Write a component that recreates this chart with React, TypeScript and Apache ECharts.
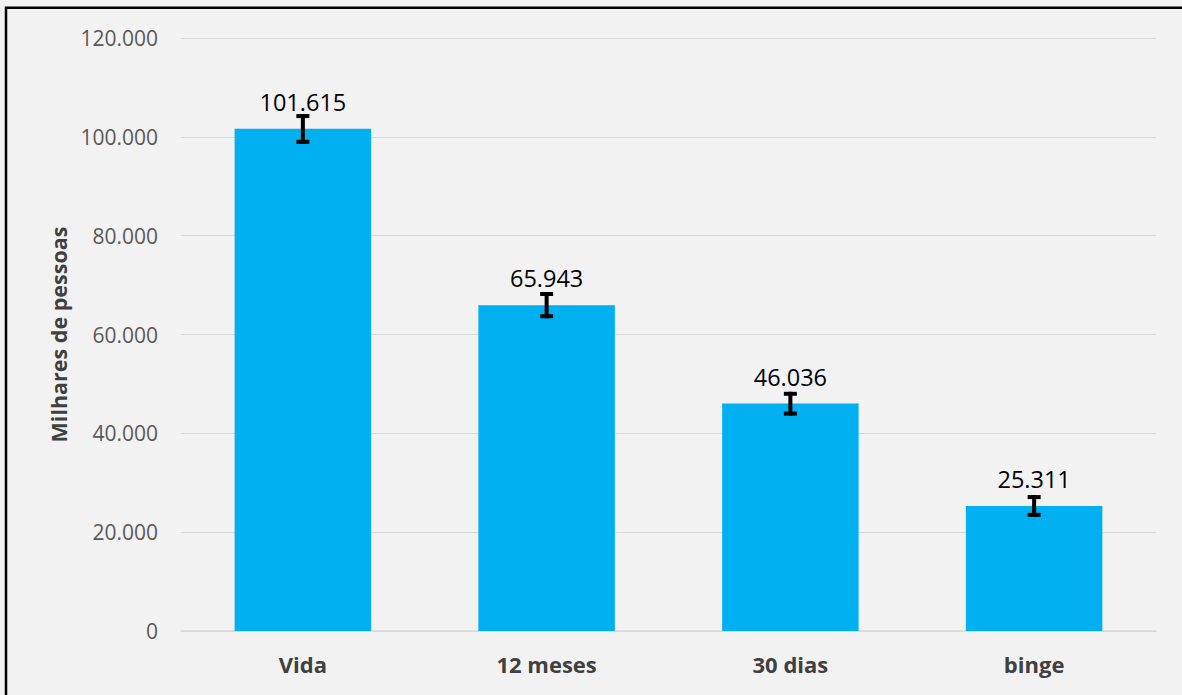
import React, { useEffect, useRef } from "react";
import * as echarts from "echarts";

const categories = ["Vida", "12 meses", "30 dias", "binge"];
const values = [101615, 65943, 46036, 25311];
const errLow = [99000, 63700, 44000, 23500];
const errHigh = [104200, 68200, 48000, 27100];
const yTicks = { min: 0, max: 120000, interval: 20000 };

function fmt(v: number): string {
  const s = Math.round(v).toString();
  return s.replace(/\B(?=(\d{3})+(?!\d))/g, ".");
}

export default function App() {
  const ref = useRef<HTMLDivElement>(null);
  useEffect(() => {
    if (!ref.current) return;
    const chart = echarts.init(ref.current, null, { renderer: "svg" });
    const font = "'Open Sans', sans-serif";
    chart.setOption({
      animation: false,
      backgroundColor: "#f2f2f2",
      textStyle: { fontFamily: font },
      grid: { left: 181, right: 26, top: 38, bottom: 64 },
      graphic: [
        {
          type: "rect",
          shape: { x: 6, y: 7.7, width: 1300, height: 900 },
          style: { fill: "none", stroke: "#000", lineWidth: 2.5 },
          silent: true,
          z: 100,
        },
      ],
      xAxis: {
        type: "category",
        data: categories,
        axisTick: { show: false },
        axisLine: { lineStyle: { color: "#d9d9d9", width: 1.5 } },
        axisLabel: {
          color: "#404040",
          fontWeight: "bold",
          fontSize: 22,
          margin: 22,
          fontFamily: font,
        },
      },
      yAxis: {
        type: "value",
        min: yTicks.min,
        max: yTicks.max,
        interval: yTicks.interval,
        name: "Milhares de pessoas",
        nameLocation: "middle",
        nameGap: 110,
        nameTextStyle: {
          color: "#404040",
          fontWeight: "bold",
          fontSize: 21.5,
          fontFamily: font,
        },
        axisLine: { show: false },
        axisTick: { show: false },
        splitLine: { lineStyle: { color: "#d9d9d9", width: 1 } },
        axisLabel: {
          color: "#595959",
          fontSize: 21,
          margin: 23,
          fontFamily: font,
          formatter: (v: number) => fmt(v),
        },
      },
      series: [
        {
          type: "bar",
          data: values,
          barWidth: "56%",
          itemStyle: { color: "#00b0f0" },
          label: {
            show: true,
            position: "top",
            distance: 15,
            color: "#000",
            fontSize: 23.5,
            fontFamily: font,
            formatter: (p: any) => fmt(p.value),
          },
        },
        {
          type: "custom",
          data: categories.map((_, i) => [i, errLow[i], errHigh[i]]),
          z: 10,
          renderItem: (params: any, api: any) => {
            const x = api.value(0);
            const lo = api.coord([x, api.value(1)]);
            const hi = api.coord([x, api.value(2)]);
            const cx = lo[0];
            const hw = 4.5;
            const style = { stroke: "#000", lineWidth: 4, lineCap: "square" };
            return {
              type: "group",
              children: [
                { type: "line", shape: { x1: cx, y1: lo[1], x2: cx, y2: hi[1] }, style },
                { type: "line", shape: { x1: cx - hw, y1: lo[1], x2: cx + hw, y2: lo[1] }, style },
                { type: "line", shape: { x1: cx - hw, y1: hi[1], x2: cx + hw, y2: hi[1] }, style },
              ],
            };
          },
        },
      ],
    });
    return () => chart.dispose();
  }, []);
  return (
    <div
      ref={ref}
      style={{ position: "fixed", left: 0, top: 0, width: 1182, height: 695 }}
    />
  );
}
